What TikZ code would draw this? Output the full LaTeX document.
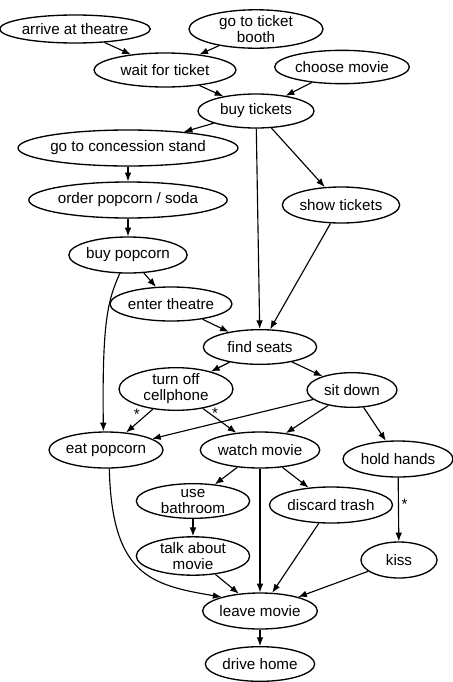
\documentclass[tikz,border=0pt]{standalone}
\usepackage{fontspec}
\setmainfont{Liberation Sans}
\usepackage{tikz}
\usetikzlibrary{arrows.meta,shapes.geometric}

\begin{document}
\begin{tikzpicture}[
    x=0.75pt, y=-0.75pt,
    >={Latex[length=6.5pt,width=5pt]},
    act/.style={ellipse, draw, line width=1pt, inner sep=0pt, align=center, font=\fontsize{11.4}{12}\selectfont},
    ew/.style 2 args={minimum width=#1pt, minimum height=#2pt},
    edge/.style={->, line width=0.85pt},
    star/.style={font=\fontsize{11.4}{12}\selectfont, inner sep=1pt}
]
\useasboundingbox (0,0) rectangle (453,682);

\node[act, ew={102}{21}] (arrive) at (75,29) {arrive at theatre};
\node[act, ew={100.5}{26}] (booth) at (256,29) {go to ticket\\booth};
\node[act, ew={106.5}{25.5}] (waittix) at (165,70) {wait for ticket};
\node[act, ew={101}{25}] (choose) at (342,67) {choose movie};
\node[act, ew={87}{25.5}] (buytix) at (256,111) {buy tickets};

\node[act, ew={148}{27}] (concess) at (128,148) {go to concession stand};
\node[act, ew={148}{27}] (order) at (128,200) {order popcorn / soda};
\node[act, ew={88}{27}] (buypop) at (128,255) {buy popcorn};
\node[act, ew={88}{27}] (showtix) at (341,205) {show tickets};
\node[act, ew={85}{25.5}] (enter) at (171,304) {enter theatre};

\node[act, ew={85}{26}] (seats) at (260,347) {find seats};
\node[act, ew={85.5}{26}] (phoneoff) at (176,389) {turn off\\cellphone};
\node[act, ew={67.5}{26}] (sitdown) at (352,390) {sit down};
\node[act, ew={85.5}{27}] (eatpop) at (106,450) {eat popcorn};
\node[act, ew={85}{27}] (watch) at (260,450) {watch movie};
\node[act, ew={82.5}{27}] (hands) at (398,459) {hold hands};

\node[act, ew={85}{26}] (bathroom) at (193,501) {use\\bathroom};
\node[act, ew={85}{27}] (trash) at (331,505) {discard trash};
\node[act, ew={85}{27}] (talk) at (193,556) {talk about\\movie};
\node[act, ew={57}{27}] (kiss) at (399,560) {kiss};
\node[act, ew={81}{27}] (leave) at (260,611) {leave movie};
\node[act, ew={82}{26}] (drive) at (260,664) {drive home};

\draw[edge] (arrive) -- (waittix);
\draw[edge] (booth) -- (waittix);
\draw[edge] (waittix) -- (buytix);
\draw[edge] (choose) -- (buytix);
\draw[edge] (buytix) -- (concess);
\draw[edge] (buytix) -- (seats);
\draw[edge] (buytix) -- (showtix);
\draw[edge] (concess) -- (order);
\draw[edge] (order) -- (buypop);
\draw[edge] (buypop) -- (enter);
\draw[edge] (buypop.-114) .. controls (108,300) and (102,320) .. (eatpop.98);
\draw[edge] (enter) -- (seats);
\draw[edge] (showtix) -- (seats);
\draw[edge] (seats) -- (phoneoff);
\draw[edge] (seats) -- (sitdown);
\draw[edge] (phoneoff) -- node[star, pos=0.22, left=4pt] {*} (eatpop);
\draw[edge] (phoneoff) -- node[star, pos=0.18, right=1pt] {*} (watch);
\draw[edge] (sitdown) -- (eatpop);
\draw[edge] (sitdown) -- (watch);
\draw[edge] (sitdown) -- (hands);
\draw[edge] (watch) -- (bathroom);
\draw[edge] (watch) -- (trash);
\draw[edge] (watch) -- (leave);
\draw[edge] (eatpop.-80) .. controls (112,575) and (150,585) .. (leave.160);
\draw[edge] (bathroom) -- (talk);
\draw[edge] (talk) -- (leave);
\draw[edge] (trash) -- (leave);
\draw[edge] (hands) -- node[star, pos=0.42, right=1pt] {*} (kiss);
\draw[edge] (kiss) -- (leave);
\draw[edge] (leave) -- (drive);
\end{tikzpicture}
\end{document}
